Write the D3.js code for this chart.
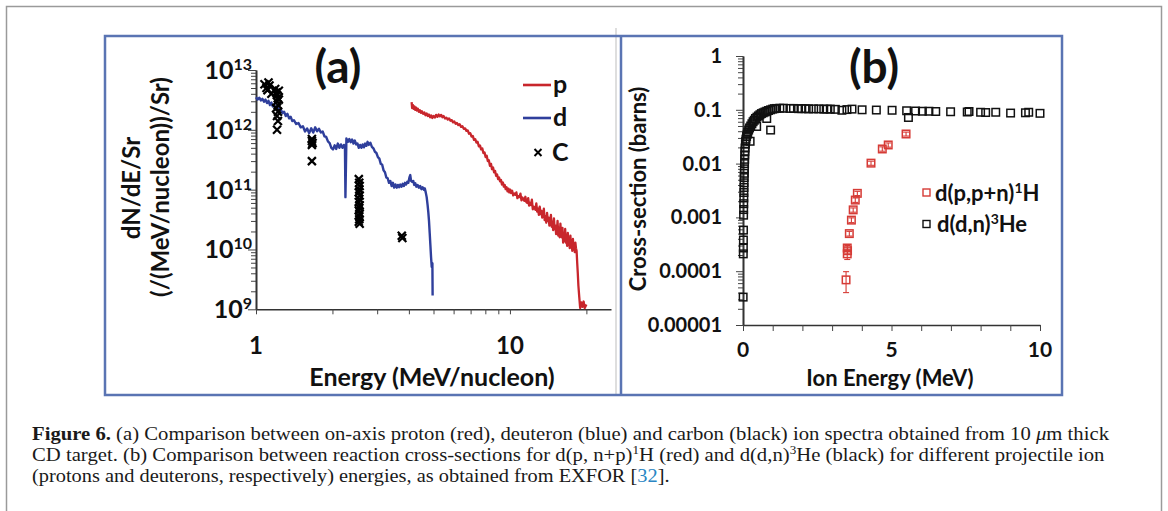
<!DOCTYPE html>
<html><head><meta charset="utf-8">
<script src="https://cdn.jsdelivr.net/npm/d3@7"></script>
<style>
body{margin:0;background:#fff}
svg{display:block}
.ch{font-family:Lato,'Open Sans',sans-serif;font-weight:700;fill:#111}
.cap{font-family:'Liberation Serif','DejaVu Serif',serif;fill:#1a1a1a}
</style>
</head><body>
<svg id="c" width="1168" height="511"></svg>
<script>
// ---------- Panel (a) data: [energy (MeV/nucleon), dN/dE/Sr] ----------
const deuteron = [[1.00,3.5e12],[1.015,3.2e12],[1.03,3.45e12],[1.045,3.1e12],[1.06,3.3e12],[1.075,2.95e12],[1.09,3.2e12],[1.105,2.8e12],[1.12,3.05e12],[1.135,2.6e12],[1.15,2.85e12],[1.165,2.45e12],[1.18,2.6e12],[1.195,2.3e12],[1.21,2.45e12],[1.23,2.1e12],[1.25,2.25e12],[1.27,1.9e12],[1.29,2.0e12],[1.31,1.7e12],[1.33,1.85e12],[1.35,1.55e12],[1.37,1.65e12],[1.39,1.4e12],[1.41,1.45e12],[1.44,1.25e12],[1.47,1.3e12],[1.50,1.1e12],[1.53,1.15e12],[1.56,9.4e11],[1.59,1.05e12],[1.62,8.8e11],[1.65,1.06e12],[1.68,9.0e11],[1.71,1.1e12],[1.74,9.5e11],[1.77,1.04e12],[1.80,9.0e11],[1.83,9.4e11],[1.86,7.8e11],[1.89,7.6e11],[1.92,6.4e11],[1.95,6.0e11],[1.98,5.0e11],[2.01,4.7e11],[2.04,5.5e11],[2.07,4.8e11],[2.10,5.9e11],[2.13,5.0e11],[2.16,5.7e11],[2.19,5.0e11],[2.22,5.6e11],[2.24,5.3e11],[2.25,7.5e10],[2.27,7.2e11],[2.30,6.3e11],[2.33,7.0e11],[2.36,6.2e11],[2.39,6.9e11],[2.42,5.9e11],[2.45,6.6e11],[2.48,5.7e11],[2.51,5.9e11],[2.54,5.0e11],[2.57,5.6e11],[2.60,5.0e11],[2.63,5.7e11],[2.66,5.1e11],[2.69,5.9e11],[2.72,5.4e11],[2.75,6.3e11],[2.78,5.6e11],[2.82,6.1e11],[2.86,5.2e11],[2.90,4.9e11],[2.94,4.3e11],[2.98,4.1e11],[3.02,3.5e11],[3.06,3.3e11],[3.10,2.7e11],[3.14,2.6e11],[3.18,2.1e11],[3.22,1.95e11],[3.26,1.6e11],[3.30,1.55e11],[3.34,1.3e11],[3.38,1.4e11],[3.42,1.15e11],[3.46,1.3e11],[3.50,1.08e11],[3.54,1.22e11],[3.58,1.08e11],[3.62,1.2e11],[3.66,1.1e11],[3.70,1.22e11],[3.74,1.12e11],[3.78,1.25e11],[3.82,1.15e11],[3.86,1.3e11],[3.90,1.22e11],[3.94,1.35e11],[3.98,1.3e11],[4.02,1.6e11],[4.05,1.75e11],[4.08,1.4e11],[4.12,1.35e11],[4.16,1.4e11],[4.20,1.2e11],[4.24,1.28e11],[4.28,1.12e11],[4.33,1.2e11],[4.38,1.08e11],[4.43,1.15e11],[4.48,1.02e11],[4.53,1.1e11],[4.58,1.0e11],[4.62,1.05e11],[4.66,9.0e10],[4.70,7.5e10],[4.74,5.5e10],[4.77,4.2e10],[4.80,3.0e10],[4.83,1.9e10],[4.86,1.2e10],[4.89,7.5e9],[4.92,5.1e9],[4.95,5.9e9],[4.96,1.7e9]];

const proton = [[4.10,2.9e12],[4.12,2.3e12],[4.15,2.6e12],[4.18,2.25e12],[4.21,2.45e12],[4.24,2.15e12],[4.27,2.35e12],[4.30,2.1e12],[4.34,2.25e12],[4.38,2.0e12],[4.42,2.12e12],[4.46,1.92e12],[4.50,2.05e12],[4.55,1.85e12],[4.60,1.95e12],[4.65,1.75e12],[4.70,1.88e12],[4.75,1.7e12],[4.80,1.8e12],[4.85,1.62e12],[4.90,1.74e12],[4.95,1.58e12],[5.00,1.7e12],[5.06,1.6e12],[5.12,1.78e12],[5.18,1.65e12],[5.24,1.8e12],[5.30,1.68e12],[5.36,1.78e12],[5.42,1.62e12],[5.48,1.7e12],[5.55,1.55e12],[5.62,1.6e12],[5.69,1.48e12],[5.76,1.55e12],[5.83,1.42e12],[5.90,1.45e12],[5.97,1.33e12],[6.04,1.38e12],[6.11,1.26e12],[6.18,1.3e12],[6.26,1.2e12],[6.34,1.24e12],[6.42,1.12e12],[6.50,1.15e12],[6.58,1.04e12],[6.66,1.06e12],[6.74,9.6e11],[6.82,9.8e11],[6.90,8.6e11],[6.98,8.8e11],[7.06,7.7e11],[7.14,7.9e11],[7.22,6.8e11],[7.30,7.0e11],[7.38,6.1e11],[7.46,6.3e11],[7.54,5.3e11],[7.62,5.5e11],[7.70,4.7e11],[7.78,4.9e11],[7.86,4.1e11],[7.94,4.2e11],[8.02,3.5e11],[8.10,3.7e11],[8.18,3.0e11],[8.26,3.1e11],[8.34,2.5e11],[8.42,2.7e11],[8.50,2.2e11],[8.58,2.35e11],[8.66,1.95e11],[8.74,2.05e11],[8.82,1.7e11],[8.90,1.8e11],[8.98,1.5e11],[9.06,1.6e11],[9.14,1.38e11],[9.22,1.45e11],[9.30,1.22e11],[9.38,1.32e11],[9.46,1.12e11],[9.54,1.2e11],[9.62,1.02e11],[9.70,1.1e11],[9.78,9.4e10],[9.86,1.04e11],[9.94,9.0e10],[10.02,1.0e11],[10.1,8.8e10],[10.2,9.6e10],[10.3,8.0e10],[10.4,8.6e10],[10.5,8.2e10],[10.6,9.0e10],[10.7,7.2e10],[10.8,7.8e10],[10.9,7.5e10],[11.0,8.6e10],[11.1,6.6e10],[11.2,7.4e10],[11.3,6.9e10],[11.4,6.5e10],[11.5,7.6e10],[11.6,6.2e10],[11.7,6.0e10],[11.8,7.2e10],[11.9,5.4e10],[12.0,6.0e10],[12.1,5.5e10],[12.2,6.8e10],[12.3,4.7e10],[12.4,5.2e10],[12.5,5.0e10],[12.6,4.6e10],[12.7,5.9e10],[12.8,4.3e10],[12.9,4.8e10],[13.0,3.8e10],[13.1,5.2e10],[13.2,3.9e10],[13.3,4.4e10],[13.4,3.4e10],[13.5,3.7e10],[13.6,4.8e10],[13.7,3.1e10],[13.8,3.6e10],[13.9,2.8e10],[14.0,4.1e10],[14.1,3.0e10],[14.2,3.4e10],[14.3,2.5e10],[14.4,2.7e10],[14.5,3.8e10],[14.6,2.4e10],[14.7,2.9e10],[14.8,2.1e10],[14.9,3.3e10],[15.0,2.2e10],[15.1,2.5e10],[15.2,1.8e10],[15.3,2.0e10],[15.4,3.0e10],[15.5,1.7e10],[15.6,2.3e10],[15.7,1.6e10],[15.8,2.7e10],[15.9,1.8e10],[16.0,1.6e10],[16.1,2.3e10],[16.2,1.3e10],[16.3,1.7e10],[16.4,1.4e10],[16.5,2.2e10],[16.6,1.3e10],[16.7,1.5e10],[16.8,1.15e10],[16.9,1.9e10],[17.0,1.2e10],[17.1,1.4e10],[17.2,1.05e10],[17.3,1.7e10],[17.4,1.1e10],[17.5,1.3e10],[17.6,9.5e9],[17.7,1.5e10],[17.8,1.0e10],[17.9,1.25e10],[18.0,9.0e9],[18.1,1.3e10],[18.2,1.05e10],[18.3,9.5e9],[18.4,6.0e9],[18.5,4.0e9],[18.6,2.5e9],[18.75,1.6e9],[18.9,1.05e9],[19.1,1.3e9],[19.3,1.1e9],[19.5,1.35e9],[19.7,1.05e9],[20.0,1.2e9]];

const carbon = [[1.08,5.8e12],[1.10,5.0e12],[1.12,6.2e12],[1.13,5.5e12],[1.11,4.6e12],[1.15,4.0e12],[1.19,4.8e12],[1.20,4.2e12],[1.21,3.8e12],[1.22,3.4e12],[1.21,3.0e12],[1.22,2.6e12],[1.20,2.3e12],[1.22,2.0e12],[1.21,1.7e12],[1.22,1.4e12],[1.21,1.0e12],[1.23,4.5e12],[1.23,3.2e12],[1.66,7.0e11],[1.66,6.5e11],[1.67,6.0e11],[1.66,5.6e11],[1.66,3.0e11],[2.54,1.5e11],[2.55,1.3e11],[2.56,1.15e11],[2.55,1.0e11],[2.54,9.0e10],[2.56,8.0e10],[2.55,7.0e10],[2.54,6.2e10],[2.56,5.5e10],[2.55,5.0e10],[2.54,4.5e10],[2.56,4.0e10],[2.55,3.6e10],[2.55,3.2e10],[2.54,2.9e10],[2.56,2.7e10],[3.75,1.7e10],[3.77,1.55e10]];

const aYTicks = [1e9,1e10,1e11,1e12,1e13];
const aYExp = ["9","10","11","12","13"];
const aXTicks = [1,10];
const aXLabels = ["1","10"];
const aLegend = ["p","d","C"];

// ---------- Panel (b) data: [ion energy (MeV), cross-section (barns)] ----------
const ddn = [[0.005,3.3e-5],[0.01,2.1e-4],[0.012,2.7e-4],[0.014,3.8e-4],[0.016,5.8e-4],[0.02,1.1e-3],[0.022,1.4e-3],[0.025,1.8e-3],[0.028,2.3e-3],[0.03,2.9e-3],[0.033,3.6e-3],[0.036,4.4e-3],[0.04,5.5e-3],[0.044,6.6e-3],[0.048,8.0e-3],[0.052,1.0e-2],[0.056,1.2e-2],[0.06,1.45e-2],[0.065,1.7e-2],[0.07,1.95e-2],[0.08,2.3e-2],[0.09,2.6e-2],[0.1,2.85e-2],[0.12,3.2e-2],[0.14,3.5e-2],[0.16,3.8e-2],[0.19,4.2e-2],[0.22,4.6e-2],[0.24,2.6e-2],[0.26,5.0e-2],[0.3,5.5e-2],[0.34,6.0e-2],[0.38,6.4e-2],[0.42,6.9e-2],[0.46,4.9e-2],[0.47,7.3e-2],[0.52,7.7e-2],[0.57,8.1e-2],[0.62,8.5e-2],[0.68,8.8e-2],[0.74,9.1e-2],[0.8,6.9e-2],[0.8,9.4e-2],[0.86,9.7e-2],[0.93,4.2e-2],[0.93,0.1],[1.0,0.103],[1.06,0.105],[1.13,0.106],[1.24,0.107],[1.36,0.107],[1.58,0.106],[1.70,0.106],[1.87,0.105],[1.98,0.105],[2.09,0.105],[2.21,0.104],[2.38,0.104],[2.55,0.104],[2.72,0.103],[2.83,0.103],[2.94,0.103],[3.11,0.102],[3.33,0.098],[3.50,0.101],[3.67,0.103],[4.01,0.1],[4.49,0.099],[5.02,0.098],[5.51,0.096],[5.57,0.072],[5.81,0.095],[6.04,0.094],[6.26,0.094],[6.49,0.093],[6.99,0.092],[7.55,0.091],[7.61,0.093],[8.00,0.09],[8.17,0.089],[8.51,0.09],[9.01,0.087],[9.51,0.088],[9.62,0.09],[10.0,0.086]];

// [energy, sigma, lower, upper]
const dpp = [[3.47,6.9e-5,4.0e-5,9.8e-5],[3.51,2.1e-4,1.65e-4,2.5e-4],[3.51,2.7e-4,2.4e-4,3.0e-4],[3.52,2.4e-4,2.1e-4,2.7e-4],[3.58,5.0e-4,4.5e-4,5.5e-4],[3.65,8.9e-4,8.0e-4,9.8e-4],[3.71,1.38e-3,1.25e-3,1.5e-3],[3.78,2.1e-3,1.9e-3,2.3e-3],[3.85,2.8e-3,2.55e-3,3.05e-3],[4.31,1.02e-2,9.3e-3,1.11e-2],[4.69,1.87e-2,1.7e-2,2.05e-2],[4.89,2.22e-2,2.02e-2,2.42e-2],[5.49,3.55e-2,3.25e-2,3.85e-2]];

const bYTicks = [1e-5,1e-4,1e-3,1e-2,1e-1,1];
const bYLabels = ["0.00001","0.0001","0.001","0.01","0.1","1"];
const bXTicks = [0,1,2,3,4,5,6,7,8,9,10];
const bXLabeled = [0,5,10];
const bLegend = [["d(p,p+n)","1","H"],["d(d,n)","3","He"]];

// ---------- Caption ----------
const capLines = [
  [{t:"Figure 6.",b:1},{t:" (a) Comparison between on-axis proton (red), deuteron (blue) and carbon (black) ion spectra obtained from 10 "},{t:"\u03BC",i:1},{t:"m thick"}],
  [{t:"CD target. (b) Comparison between reaction cross-sections for d(p, n+p)"},{t:"1",s:1},{t:"H (red) and d(d,n)"},{t:"3",s:1},{t:"He (black) for different projectile ion"}],
  [{t:"(protons and deuterons, respectively) energies, as obtained from EXFOR ["},{t:"32",c:"#2a86c4"},{t:"]."}]
];

// ================= drawing =================
const svg = d3.select("#c");
const RED = "#c8262c", BLUE = "#2f3f9c", SQRED = "#d63b36";

svg.append("rect").attr("x",6.5).attr("y",6.5).attr("width",1155).attr("height",530)
  .attr("fill","none").attr("stroke","#9a9a9a").attr("stroke-width",1.5);
svg.append("line").attr("x1",616).attr("x2",616).attr("y1",28).attr("y2",395)
  .attr("stroke","#dedede").attr("stroke-width",2);
svg.append("rect").attr("x",105).attr("y",36).attr("width",957).attr("height",359)
  .attr("fill","none").attr("stroke","#5a74b3").attr("stroke-width",2.5);
svg.append("line").attr("x1",621).attr("x2",621).attr("y1",36).attr("y2",395)
  .attr("stroke","#5a74b3").attr("stroke-width",2.5);

function minorLog(lo, hi){
  const out=[];
  for(let e=Math.floor(Math.log10(lo)); e<=Math.ceil(Math.log10(hi)); e++)
    for(let k=2;k<=9;k++){const v=k*Math.pow(10,e); if(v>lo*1.0001&&v<hi*0.9999) out.push(v);}
  return out;
}
function styleAxis(g){
  g.select(".domain").attr("stroke","#333").attr("stroke-width",1.6);
  g.selectAll(".tick line").attr("stroke","#444").attr("stroke-width",1);
}

// ---------- Panel (a) ----------
const xA = d3.scaleLog().domain([1,25]).range([256,611]);
const yA = d3.scaleLog().domain([1e9,1e13]).range([309.3,70]);

const gAy = svg.append("g").attr("transform","translate(256,0)");
gAy.call(d3.axisLeft(yA).tickValues(minorLog(1e9,1e13)).tickSize(5).tickSizeOuter(0).tickFormat(""));
styleAxis(gAy);
const gAy2 = svg.append("g").attr("transform","translate(256,0)");
gAy2.call(d3.axisLeft(yA).tickValues(aYTicks).tickSize(8).tickSizeOuter(0).tickFormat(""));
styleAxis(gAy2);
const gAx = svg.append("g").attr("transform","translate(0,309.3)");
gAx.call(d3.axisBottom(xA).tickValues(minorLog(1,25).concat(aXTicks)).tickSize(5).tickSizeOuter(0).tickFormat(""));
styleAxis(gAx);

aYTicks.forEach((v,i)=>{
  const t = svg.append("text").attr("class","ch").attr("x",252).attr("y",yA(v)+9)
    .attr("text-anchor","end").style("font-size","25px");
  t.append("tspan").text("10");
  t.append("tspan").attr("dy",-9).style("font-size","16px").text(aYExp[i]);
});
aXTicks.forEach((v,i)=>{
  svg.append("text").attr("class","ch").attr("x",xA(v)).attr("y",354)
    .attr("text-anchor","middle").style("font-size","24px").text(aXLabels[i]);
});
svg.append("text").attr("class","ch").attr("x",432).attr("y",386).attr("text-anchor","middle")
  .style("font-size","25px").text("Energy (MeV/nucleon)");
svg.append("text").attr("class","ch").attr("transform","translate(140,188) rotate(-90)")
  .attr("text-anchor","middle").style("font-size","24px").text("dN/dE/Sr");
svg.append("text").attr("class","ch").attr("transform","translate(169,187) rotate(-90)")
  .attr("text-anchor","middle").style("font-size","24px").text("(/(MeV/nucleon))/Sr)");
svg.append("text").attr("class","ch").attr("x",338).attr("y",83).attr("text-anchor","middle")
  .style("font-size","46px").text("(a)");

const lineA = d3.line().x(d=>xA(d[0])).y(d=>yA(d[1]));
svg.append("path").datum(deuteron).attr("d",lineA)
  .attr("fill","none").attr("stroke",BLUE).attr("stroke-width",2.4).attr("stroke-linejoin","round");
svg.append("path").datum(proton).attr("d",lineA)
  .attr("fill","none").attr("stroke",RED).attr("stroke-width",2.3).attr("stroke-linejoin","round");
const crossPath = "M-4,-4L4,4M-4,4L4,-4";
svg.append("g").selectAll("path").data(carbon).join("path")
  .attr("transform",d=>`translate(${xA(d[0])},${yA(d[1])})`).attr("d",crossPath)
  .attr("stroke","#000").attr("stroke-width",2.2).attr("fill","none");

const legA = [{c:RED,y:85},{c:BLUE,y:118},{c:null,y:152.5}];
legA.forEach((L,i)=>{
  if(L.c) svg.append("line").attr("x1",523).attr("x2",551).attr("y1",L.y).attr("y2",L.y)
    .attr("stroke",L.c).attr("stroke-width",2.6);
  else svg.append("path").attr("transform",`translate(538,${L.y})`).attr("d","M-3.5,-3.5L3.5,3.5M-3.5,3.5L3.5,-3.5")
    .attr("stroke","#000").attr("stroke-width",2);
  svg.append("text").attr("class","ch").attr("x",i===2?552:553).attr("y",L.y+8)
    .style("font-size","25px").text(aLegend[i]);
});

// ---------- Panel (b) ----------
const xB = d3.scaleLinear().domain([0,10]).range([743,1040]);
const yB = d3.scaleLog().domain([1e-5,1]).range([325,56]);

const gBy = svg.append("g").attr("transform","translate(743,0)");
gBy.call(d3.axisLeft(yB).tickValues(minorLog(1e-5,1)).tickSize(5).tickSizeOuter(0).tickFormat(""));
styleAxis(gBy);
const gBy2 = svg.append("g").attr("transform","translate(743,0)");
gBy2.call(d3.axisLeft(yB).tickValues(bYTicks).tickSize(7).tickSizeOuter(0).tickFormat(""));
styleAxis(gBy2);
const gBx = svg.append("g").attr("transform","translate(0,325)");
gBx.call(d3.axisBottom(xB).tickValues(bXTicks).tickSize(6).tickSizeOuter(0).tickFormat(""));
styleAxis(gBx);

bYTicks.forEach((v,i)=>{
  svg.append("text").attr("class","ch").attr("x",722).attr("y",yB(v)+7)
    .attr("text-anchor","end").style("font-size","20px").text(bYLabels[i]);
});
bXLabeled.forEach(v=>{
  svg.append("text").attr("class","ch").attr("x",xB(v)).attr("y",357)
    .attr("text-anchor","middle").style("font-size","21px").text(String(v));
});
svg.append("text").attr("class","ch").attr("x",890).attr("y",386).attr("text-anchor","middle")
  .style("font-size","22px").text("Ion Energy (MeV)");
svg.append("text").attr("class","ch").attr("transform","translate(646,189) rotate(-90)")
  .attr("text-anchor","middle").style("font-size","22px").text("Cross-section (barns)");
svg.append("text").attr("class","ch").attr("x",874).attr("y",83).attr("text-anchor","middle")
  .style("font-size","46px").text("(b)");

const S = 7.5;
svg.append("g").selectAll("rect").data(ddn).join("rect")
  .attr("x",d=>xB(d[0])-S/2).attr("y",d=>yB(d[1])-S/2).attr("width",S).attr("height",S)
  .attr("fill","none").attr("stroke","#111").attr("stroke-width",1.5);
const gErr = svg.append("g").attr("stroke",SQRED).attr("stroke-width",1.1);
dpp.forEach(d=>{
  const x = xB(d[0]);
  gErr.append("line").attr("x1",x).attr("x2",x).attr("y1",yB(d[2])).attr("y2",yB(d[3]));
  gErr.append("line").attr("x1",x-3).attr("x2",x+3).attr("y1",yB(d[2])).attr("y2",yB(d[2]));
  gErr.append("line").attr("x1",x-3).attr("x2",x+3).attr("y1",yB(d[3])).attr("y2",yB(d[3]));
});
svg.append("g").selectAll("rect").data(dpp).join("rect")
  .attr("x",d=>xB(d[0])-S/2).attr("y",d=>yB(d[1])-S/2).attr("width",S).attr("height",S)
  .attr("fill","none").attr("stroke",SQRED).attr("stroke-width",1.5);

[{c:SQRED,y:192.5,x:935},{c:"#111",y:224,x:937}].forEach((L,i)=>{
  svg.append("rect").attr("x",923).attr("y",L.y-3.5).attr("width",7).attr("height",7)
    .attr("fill","none").attr("stroke",L.c).attr("stroke-width",1.4);
  const t = svg.append("text").attr("class","ch").attr("x",L.x).attr("y",L.y+8).style("font-size","22px");
  t.append("tspan").text(bLegend[i][0]);
  t.append("tspan").attr("dy",-8).style("font-size","14px").text(bLegend[i][1]);
  t.append("tspan").attr("dy",8).text(bLegend[i][2]);
});

// ---------- Caption ----------
const capY = [440,461,482];
const capW = [1078,1074,638];
capLines.forEach((parts,li)=>{
  const t = svg.append("text").attr("class","cap").attr("x",0).attr("y",0).style("font-size","19px");
  let sup=false;
  parts.forEach(p=>{
    const ts = t.append("tspan").text(p.t);
    if(p.b) ts.style("font-weight","700");
    if(p.i) ts.style("font-style","italic");
    if(p.c) ts.style("fill",p.c);
    if(p.s){ ts.attr("dy",-7).style("font-size","12px"); sup=true; }
    else if(sup){ ts.attr("dy",7); sup=false; }
  });
  const w = t.node().getBBox().width;
  t.attr("transform",`translate(32,${capY[li]}) scale(${capW[li]/w},1)`);
});
</script>
</body></html>
